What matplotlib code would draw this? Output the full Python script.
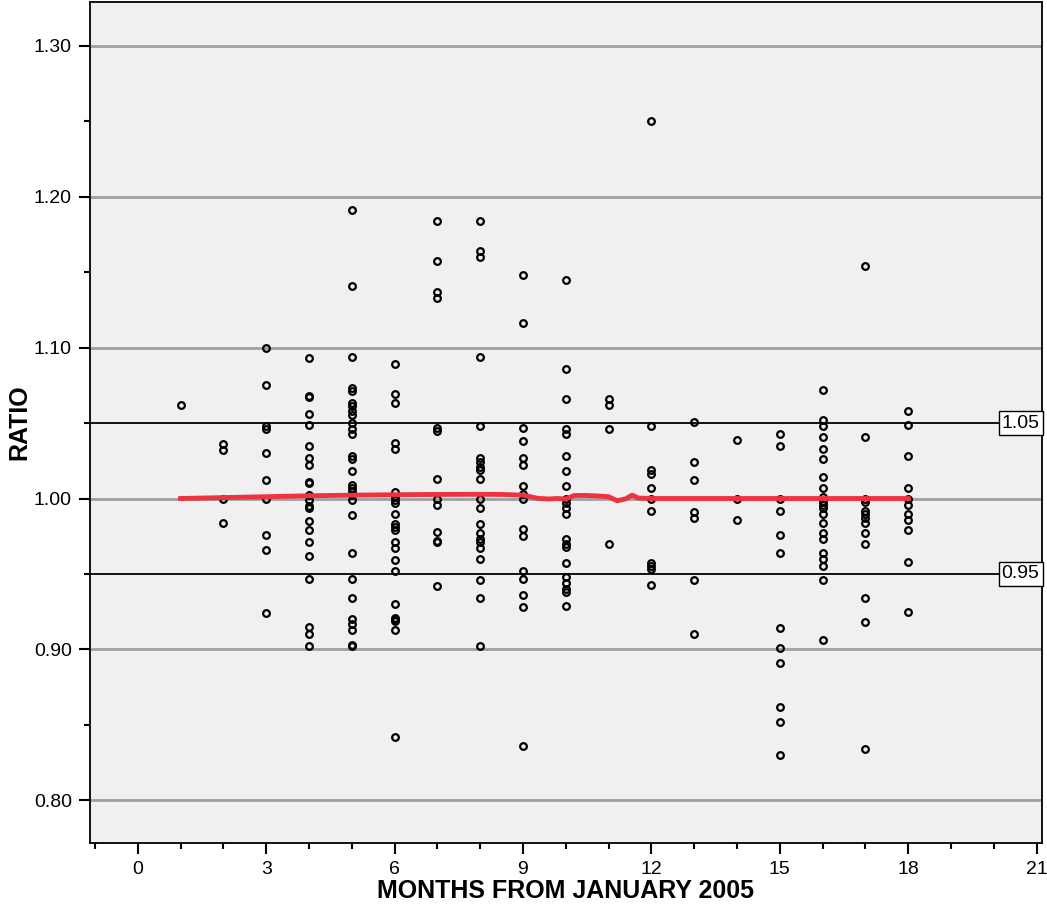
import matplotlib.pyplot as plt
import numpy as np
from matplotlib.ticker import MultipleLocator

plt.rcParams['font.family'] = ['Liberation Sans', 'DejaVu Sans']

# Messwerte: Monat -> Ratio-Werte
ratios = {
    1: [1.062],
    2: [1.036, 1.032, 1.000, 0.984],
    3: [1.100, 1.075, 1.048, 1.046, 1.030, 1.012, 1.000, 0.976, 0.966, 0.924],
    4: [1.093, 1.068, 1.067, 1.056, 1.049, 1.035, 1.027, 1.022, 1.011, 1.010,
        1.002, 0.999, 0.995, 0.994, 0.985, 0.979, 0.971, 0.962, 0.947, 0.915,
        0.910, 0.902],
    5: [1.191, 1.141, 1.094, 1.073, 1.071, 1.063, 1.061, 1.058, 1.055, 1.050,
        1.046, 1.043, 1.028, 1.026, 1.018, 1.009, 1.007, 1.005, 1.002, 0.999,
        0.989, 0.964, 0.947, 0.934, 0.920, 0.917, 0.913, 0.903, 0.902],
    6: [1.089, 1.069, 1.063, 1.037, 1.033, 1.004, 1.001, 0.999, 0.997, 0.990,
        0.983, 0.981, 0.979, 0.971, 0.967, 0.959, 0.952, 0.930, 0.921, 0.920,
        0.919, 0.913, 0.842],
    7: [1.184, 1.157, 1.137, 1.133, 1.047, 1.045, 1.013, 1.000, 0.996, 0.978,
        0.972, 0.971, 0.942],
    8: [1.184, 1.164, 1.160, 1.094, 1.048, 1.027, 1.024, 1.021, 1.019, 1.013,
        1.000, 0.994, 0.983, 0.977, 0.973, 0.971, 0.967, 0.960, 0.946, 0.934,
        0.902],
    9: [1.148, 1.116, 1.047, 1.038, 1.027, 1.022, 1.008, 1.003, 1.000, 0.980,
        0.975, 0.952, 0.947, 0.936, 0.928, 0.836],
    10: [1.145, 1.086, 1.066, 1.046, 1.043, 1.028, 1.018, 1.008, 1.000, 0.997,
         0.994, 0.990, 0.973, 0.970, 0.968, 0.957, 0.948, 0.944, 0.940, 0.938,
         0.929],
    11: [1.066, 1.062, 1.046, 0.970],
    12: [1.250, 1.048, 1.019, 1.016, 1.007, 1.000, 0.992, 0.957, 0.955, 0.953,
         0.943],
    13: [1.051, 1.024, 1.012, 0.991, 0.987, 0.946, 0.910],
    14: [1.039, 1.000, 0.986],
    15: [1.043, 1.035, 1.000, 0.992, 0.976, 0.964, 0.914, 0.901, 0.891, 0.862,
         0.852, 0.830],
    16: [1.072, 1.052, 1.048, 1.041, 1.033, 1.026, 1.014, 1.007, 1.001, 0.998,
         0.996, 0.994, 0.990, 0.984, 0.977, 0.973, 0.964, 0.960, 0.955, 0.946,
         0.906],
    17: [1.154, 1.041, 1.000, 0.998, 0.992, 0.990, 0.987, 0.984, 0.977, 0.970,
         0.934, 0.918, 0.834],
    18: [1.058, 1.049, 1.028, 1.007, 1.000, 0.996, 0.990, 0.986, 0.979, 0.958,
         0.925],
}

# Glaettungskurve
fit_x = [1, 2, 3, 4, 5, 6, 7, 8, 8.5, 9, 9.35, 9.6, 9.8, 10.0, 10.2, 10.5,
         10.8, 11.0, 11.2, 11.4, 11.55, 11.7, 12, 13, 14, 15, 16, 17, 18]
fit_y = [1.0000, 1.0006, 1.0012, 1.0018, 1.0022, 1.0025, 1.0027, 1.0028,
         1.0027, 1.0022, 1.0001, 0.9997, 1.0000, 0.9997, 1.0020, 1.0020,
         1.0016, 1.0012, 0.9985, 0.9998, 1.0022, 1.0003, 1.0000, 1.0000,
         1.0000, 1.0000, 1.0000, 1.0000, 1.0000]

ref_lines = [1.05, 0.95]
ref_labels = ['1.05', '0.95']

x = np.concatenate([[m] * len(v) for m, v in ratios.items()])
y = np.concatenate([v for v in ratios.values()])

fig = plt.figure(figsize=(10.47, 9.15), dpi=100)
ax = fig.add_axes([0.086, 0.079, 0.909, 0.919])
ax.set_facecolor('#f0f0f0')

for g in np.arange(0.8, 1.31, 0.1):
    ax.axhline(g, color='#a0a0a0', lw=2, zorder=1)

for r, lab in zip(ref_lines, ref_labels):
    ax.axhline(r, color='black', lw=1.3, zorder=2)
    ax.text(21.07, r, lab, ha='right', va='center', fontsize=14, zorder=6,
            bbox=dict(facecolor='white', edgecolor='black', lw=1, pad=2.2))

ax.plot(x, y, 'o', mfc='none', mec='black', ms=4.8, mew=1.6, zorder=4)
ax.plot(fit_x, fit_y, '-', color='#ee3340', lw=3.5, zorder=5)

ax.set_xlim(-1.115, 21.12)
ax.set_ylim(0.772, 1.329)
ax.xaxis.set_major_locator(MultipleLocator(3))
ax.xaxis.set_minor_locator(MultipleLocator(1))
ax.yaxis.set_major_locator(MultipleLocator(0.1))
ax.yaxis.set_minor_locator(MultipleLocator(0.05))
ax.yaxis.set_major_formatter(plt.FormatStrFormatter('%.2f'))
ax.tick_params(which='major', length=8, width=1.5, labelsize=14, pad=5)
ax.tick_params(which='minor', length=4, width=1.5)
for s in ax.spines.values():
    s.set_linewidth(1.3)

ax.set_xlabel('MONTHS FROM JANUARY 2005', fontsize=18, fontweight='bold')
ax.set_ylabel('RATIO', fontsize=18, fontweight='bold')
ax.xaxis.set_label_coords(0.5, -0.058)
ax.yaxis.set_label_coords(-0.074, 0.5)
ax.xaxis.label.set_va('center')
ax.yaxis.label.set_va('center')

plt.savefig('out.png', dpi=100)
